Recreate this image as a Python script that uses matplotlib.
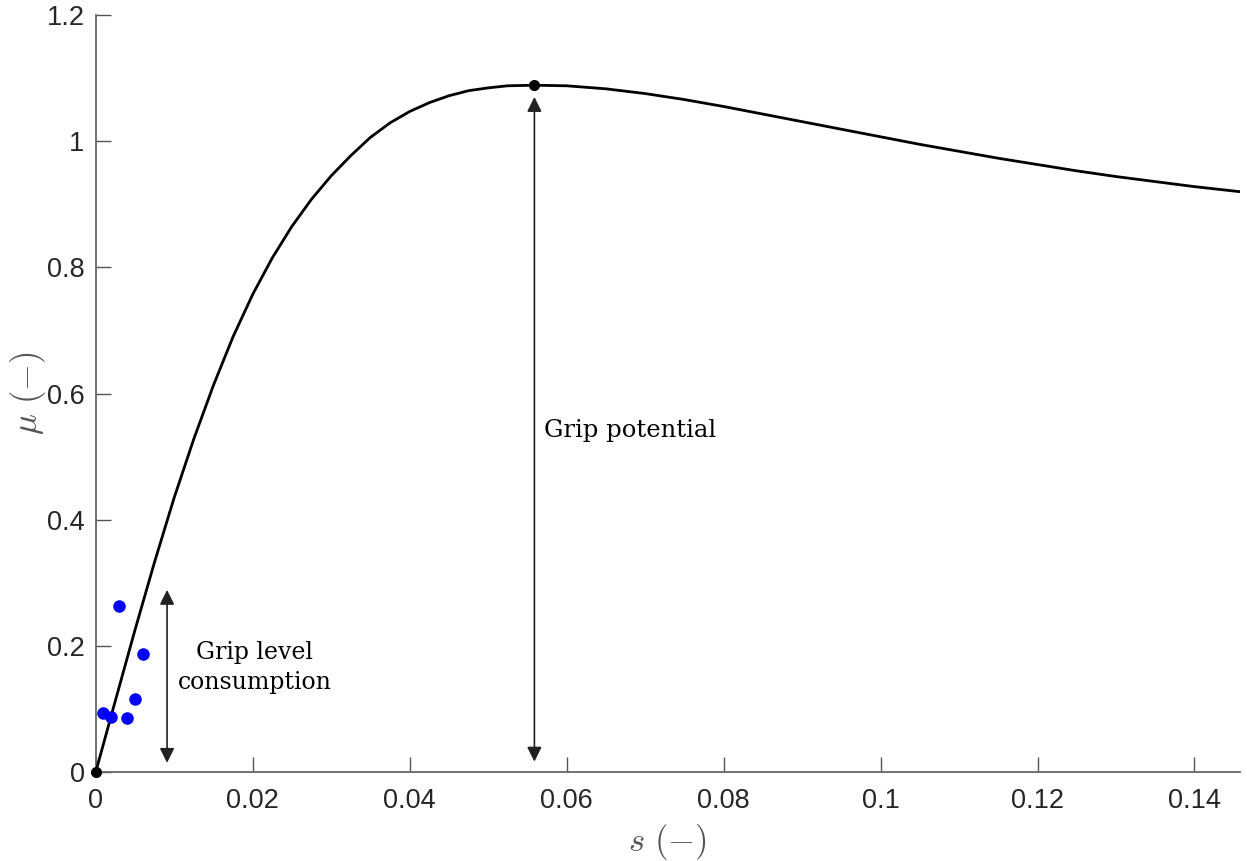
import numpy as np
import matplotlib
matplotlib.use('Agg')
import matplotlib.pyplot as plt

# friction curve mu(s)
s_curve = [0, 0.0025, 0.005, 0.0075, 0.01, 0.0125, 0.015, 0.0175, 0.02, 0.0225,
           0.025, 0.0275, 0.03, 0.0325, 0.035, 0.0375, 0.04, 0.0425, 0.045, 0.0475,
           0.05, 0.0525, 0.0559, 0.06, 0.065, 0.07, 0.075, 0.08, 0.085, 0.09,
           0.095, 0.1, 0.105, 0.11, 0.115, 0.12, 0.125, 0.13, 0.135, 0.14, 0.1458]
mu_curve = [0, 0.113, 0.225, 0.333, 0.435, 0.528, 0.613, 0.690, 0.757, 0.815,
            0.865, 0.908, 0.945, 0.977, 1.006, 1.029, 1.047, 1.061, 1.072, 1.080,
            1.0845, 1.0878, 1.0887, 1.0878, 1.083, 1.0755, 1.066, 1.055, 1.043, 1.031,
            1.019, 1.007, 0.995, 0.984, 0.973, 0.963, 0.953, 0.944, 0.936, 0.928, 0.920]

# measured points
s_meas = [0.001, 0.002, 0.003, 0.004, 0.005, 0.006]
mu_meas = [0.094, 0.088, 0.263, 0.086, 0.116, 0.187]

# marked points: origin and peak
s_mark = [0, 0.0559]
mu_mark = [0, 1.0887]

xticks = [0, 0.02, 0.04, 0.06, 0.08, 0.1, 0.12, 0.14]
xticklabels = ['0', '0.02', '0.04', '0.06', '0.08', '0.1', '0.12', '0.14']
yticks = [0, 0.2, 0.4, 0.6, 0.8, 1, 1.2]
yticklabels = ['0', '0.2', '0.4', '0.6', '0.8', '1', '1.2']

plt.rcParams['mathtext.fontset'] = 'cm'

fig = plt.figure(figsize=(12.47, 8.61), dpi=100)
ax = fig.add_axes([0.0767, 0.103, 0.9177, 0.8796])

ax.plot(s_curve, mu_curve, color='black', lw=2, zorder=3, solid_joinstyle='round')
ax.plot(s_meas, mu_meas, 'o', color='#0000ff', ms=8, zorder=4)
ax.plot(s_mark, mu_mark, 'o', color='black', ms=7, zorder=5, clip_on=False)

# arrows
arr = dict(arrowstyle='<|-|>', color='#222222', lw=1.2, mutation_scale=22,
           shrinkA=0, shrinkB=0)
ax.annotate('', xy=(0.0091, 0.289), xytext=(0.0091, 0.015), arrowprops=arr)
ax.annotate('', xy=(0.0559, 1.07), xytext=(0.0559, 0.017), arrowprops=arr)

ax.text(0.0571, 0.542, 'Grip potential', family='DejaVu Serif', fontsize=17.5,
        ha='left', va='center', color='black')
ax.text(0.0203, 0.166, 'Grip level\nconsumption', family='DejaVu Serif', fontsize=17,
        ha='center', va='center', color='black', linespacing=1.35)

ax.set_xlim(0, 0.1458)
ax.set_ylim(0, 1.2)
ax.set_xticks(xticks)
ax.set_xticklabels(xticklabels)
ax.set_yticks(yticks)
ax.set_yticklabels(yticklabels)

for sp in ['top', 'right']:
    ax.spines[sp].set_visible(False)
for sp in ['left', 'bottom']:
    ax.spines[sp].set_color('#666666')
    ax.spines[sp].set_linewidth(1.3)

ax.tick_params(direction='in', length=11, width=1, color='#555555',
               labelsize=19.5, labelcolor='#262626', pad=8)
for lb in ax.get_xticklabels() + ax.get_yticklabels():
    lb.set_family('Liberation Sans')
ax.tick_params(axis='x', pad=11)

ax.set_xlabel(r'$s\ (-)$', fontsize=25, color='#555555', labelpad=6)
ax.set_ylabel(r'$\mu\ (-)$', fontsize=25, color='#555555', labelpad=-1)

fig.savefig('out.png', dpi=100)
